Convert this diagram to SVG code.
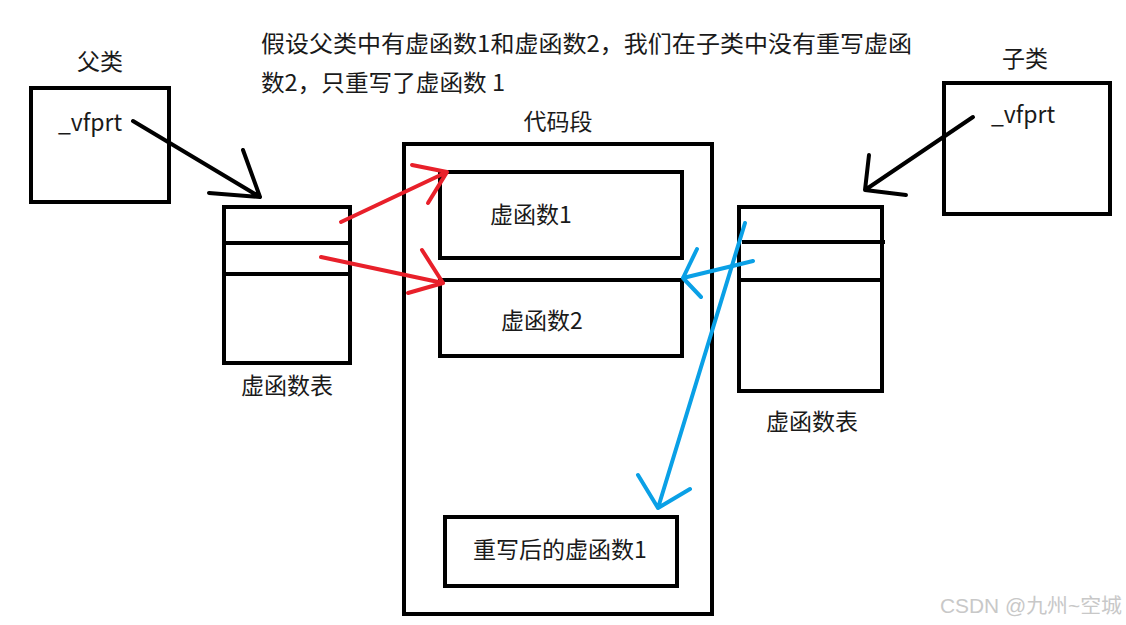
<svg xmlns="http://www.w3.org/2000/svg" width="1126" height="625" viewBox="0 0 1126 625">
<style>
.box{fill:none;stroke:#000;stroke-width:4}
.t{font-family:"Noto Sans CJK SC","Noto Sans",sans-serif;font-size:23px;fill:#1a1a1a}
.c{text-anchor:middle}
.blk{stroke:#000;stroke-width:4;fill:none;stroke-linecap:round;stroke-linejoin:round}
.red{stroke:#e8202a;stroke-width:4;fill:none;stroke-linecap:round;stroke-linejoin:round}
.blue{stroke:#0aa0e6;stroke-width:4;fill:none;stroke-linecap:round;stroke-linejoin:round}
.wm{font-family:"Liberation Sans","Noto Sans CJK SC",sans-serif;font-size:20px;fill:#c8c8c8}
</style>
<rect width="1126" height="625" fill="#fff"/>
<g id="note">
<text class="t" x="261" y="52" textLength="651" lengthAdjust="spacingAndGlyphs">假设父类中有虚函数1和虚函数2，我们在子类中没有重写虚函</text>
<text class="t" x="261" y="91" textLength="244" lengthAdjust="spacingAndGlyphs">数2，只重写了虚函数 1</text>
</g>
<g id="parent">
<text class="t c" x="100" y="70">父类</text>
<rect class="box" x="31" y="88" width="138" height="114"/>
<text class="t" x="58" y="131">_vfprt</text>
</g>
<g id="parent-vtable">
<rect class="box" x="224" y="207" width="126" height="156"/>
<line class="box" x1="224" y1="243" x2="350" y2="243"/>
<line class="box" x1="224" y1="274" x2="350" y2="274"/>
<text class="t c" x="287" y="394">虚函数表</text>
</g>
<g id="code-segment">
<text class="t c" x="558" y="130">代码段</text>
<rect class="box" x="404" y="144" width="308" height="470"/>
</g>
<g id="vf1">
<rect class="box" x="440" y="172" width="242" height="86"/>
<text class="t c" x="531" y="223">虚函数1</text>
</g>
<g id="vf2">
<rect class="box" x="440" y="280" width="242" height="76"/>
<text class="t c" x="542" y="329">虚函数2</text>
</g>
<g id="vf1-override">
<rect class="box" x="445" y="517" width="232" height="69"/>
<text class="t c" x="560" y="558">重写后的虚函数1</text>
</g>
<g id="child">
<text class="t c" x="1025" y="67">子类</text>
<rect class="box" x="944" y="83" width="166" height="131"/>
<text class="t" x="991" y="123">_vfprt</text>
</g>
<g id="child-vtable">
<rect class="box" x="739" y="207" width="143" height="184"/>
<line class="box" x1="742" y1="242" x2="885" y2="242"/>
<line class="box" x1="739" y1="280" x2="882" y2="280"/>
<text class="t c" x="812" y="430">虚函数表</text>
</g>
<g id="connectors">
<path class="blk" d="M133 121 L260 197 M243 150 L260 197 L209 193"/>
<path class="blk" d="M973 117 L865 190 M869 155 L865 190 L906 195"/>
<path class="red" d="M341 222 L447 172 M412 165 L447 172 L428 203"/>
<path class="red" d="M321 257 L443 283 M422 250 L443 283 L408 293"/>
<path class="blue" d="M753 261 L683 278 M697 249 L683 278 L701 297"/>
<path class="blue" d="M745 223 L658 508 M638 475 L658 508 L690 489"/>
</g>
<text class="wm" x="940" y="613" textLength="182" lengthAdjust="spacingAndGlyphs">CSDN @九州~空城</text>
</svg>
